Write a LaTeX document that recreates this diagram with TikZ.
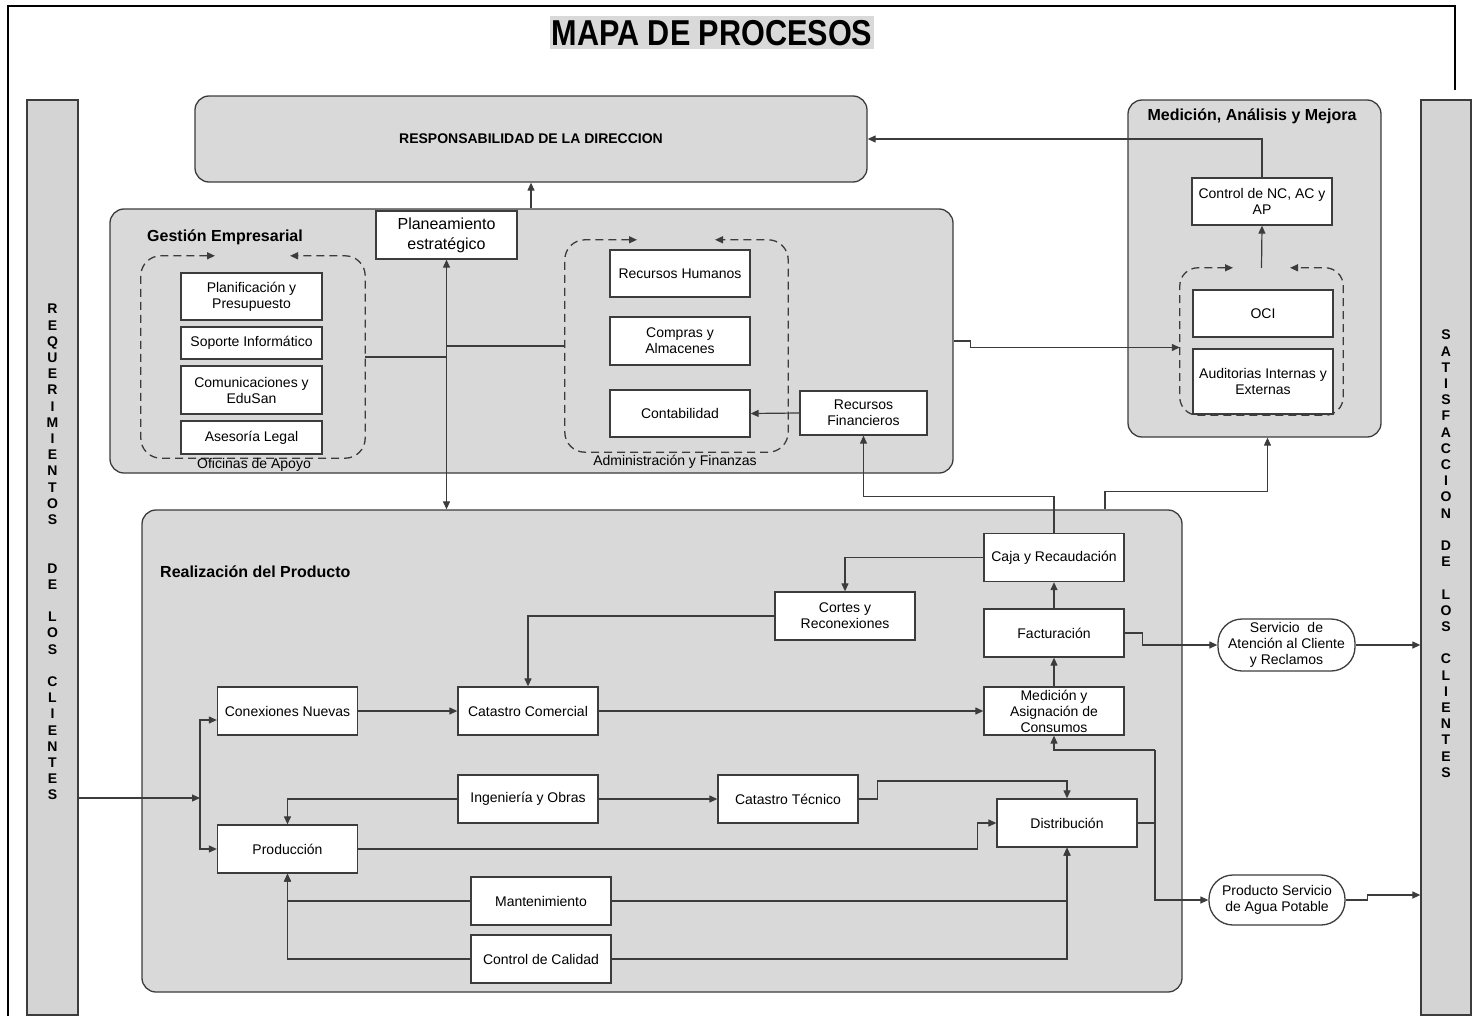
\documentclass[tikz,border=0pt]{standalone}
\usepackage{fontspec}
\setmainfont{Liberation Sans}
\newfontfamily\titulofont[FakeStretch=0.85]{Liberation Sans}
\usetikzlibrary{arrows.meta}
\usetikzlibrary{calc}
\usepackage{xcolor}

\definecolor{zonagris}{HTML}{D9D9D9}
\definecolor{colgris}{HTML}{D4D4D4}
\definecolor{trazo}{HTML}{3C3C3C}

\newcommand{\chica}{\fontsize{14}{16}\selectfont}
\newcommand{\etiq}{\bfseries\fontsize{16}{19}\selectfont}
\newcommand{\letra}{\bfseries\fontsize{14}{16.2}\selectfont}

\tikzset{
  caja/.style={draw=trazo, fill=white, line width=1.3pt, minimum width=140pt,
    minimum height=48pt, align=center, inner sep=1pt, font=\chica},
  zona/.style={draw=trazo, fill=zonagris, line width=1.3pt, rounded corners=14pt, inner sep=0pt},
  columna/.style={draw=trazo, fill=colgris, line width=1.3pt, minimum width=51pt,
    minimum height=915pt, inner sep=0pt},
  grupo/.style={draw=trazo, dash pattern=on 8pt off 5pt, line width=1.3pt, rounded corners=20pt},
  punta/.tip={Triangle[length=8pt,width=7pt]},
  flecha/.style={-punta, line width=1.2pt, draw=trazo},
  linea/.style={line width=1.2pt, draw=trazo},
  titulo/.style={font=\etiq, anchor=west, inner sep=0pt},
  ovalo/.style={draw=trazo, fill=white, line width=1.3pt, rounded corners=24pt,
    align=center, inner sep=1pt, font=\chica}
}

\begin{document}
\begin{tikzpicture}[x=1pt,y=-1pt]
\useasboundingbox (0,0) rectangle (1475,1025);

% marco y titulo
\draw[line width=2pt] (1455,90) -- (1455,6) -- (8,6) -- (8,1016);
\node[fill=zonagris, inner xsep=2pt, minimum height=33pt, font=\titulofont\bfseries\fontsize{36}{40}\selectfont] (titulo) at (712,33) {MAPA DE PROCESOS};

% columnas de clientes
\node[columna] (req) at (52.5,557.5) {};
\node[columna, minimum width=50pt] (sat) at (1446,557.5) {};
\node[font=\letra, align=center, anchor=north, inner sep=0pt] (reqtxt) at (52.5,304)
  {R\\E\\Q\\U\\E\\R\\I\\M\\I\\E\\N\\T\\O\\S\\[32.4pt]D\\E\\[16.2pt]L\\O\\S\\[16.2pt]C\\L\\I\\E\\N\\T\\E\\S};
\node[font=\letra, align=center, anchor=north, inner sep=0pt] (sattxt) at (1446,330)
  {S\\A\\T\\I\\S\\F\\A\\C\\C\\I\\O\\N\\[16.2pt]D\\E\\[16.2pt]L\\O\\S\\[16.2pt]C\\L\\I\\E\\N\\T\\E\\S};

% zonas
\node[zona, minimum width=672pt, minimum height=86pt, font=\bfseries\fontsize{14}{16}\selectfont] (resp) at (531,139) {RESPONSABILIDAD DE LA DIRECCION};
\node[zona, minimum width=843pt, minimum height=264pt] (gestion) at (531.5,341) {};
\node[zona, minimum width=253pt, minimum height=337pt] (medmej) at (1254.5,268.5) {};
\node[zona, minimum width=1040pt, minimum height=482pt] (realiz) at (662,751) {};
\node[titulo] (lblgestion) at (147,237) {Gestión Empresarial};
\node[titulo] (lblrealiz) at (160,572) {Realización del Producto};
\node[font=\etiq, inner sep=0pt] (lblmedmej) at (1252,116) {Medición, Análisis y Mejora};

% gestion empresarial
\node[caja, minimum width=141pt, font=\fontsize{16}{20}\selectfont] (planea) at (446.5,235) {Planeamiento\\estratégico};

\node[minimum width=224pt, minimum height=202pt, inner sep=0pt] (ofic) at (253,357) {};
\draw[grupo, punta-punta] ($(ofic.north)+(-38,0)$) -| (ofic.south west) -| (ofic.north east) -- ($(ofic.north)+(37,0)$);
\node[font=\chica, inner sep=0pt] (lblofic) at (254,465) {Oficinas de Apoyo};
\node[caja, minimum width=141pt, minimum height=47pt] (plan) at (251.5,296.5) {Planificación y\\Presupuesto};
\node[caja, minimum width=141pt, minimum height=32pt] (soporte) at (251.5,343) {Soporte Informático};
\node[caja, minimum width=141pt] (comunic) at (251.5,390) {Comunicaciones y\\EduSan};
\node[caja, minimum width=141pt, minimum height=33pt] (asesoria) at (251.5,437.5) {Asesoría Legal};

\node[minimum width=223pt, minimum height=212pt, inner sep=0pt] (admin) at (676.5,346) {};
\draw[grupo, punta-punta] ($(admin.north)+(-39.5,0)$) -| (admin.south west) -| (admin.north east) -- ($(admin.north)+(38.5,0)$);
\node[font=\chica, inner sep=0pt] (lbladmin) at (675,462) {Administración y Finanzas};
\node[caja, minimum height=47pt] (rrhh) at (680,273.5) {Recursos Humanos};
\node[caja] (compras) at (680,341) {Compras y\\Almacenes};
\node[caja, minimum height=47pt] (contab) at (680,413.5) {Contabilidad};
\node[caja, minimum width=127pt, minimum height=44pt] (recfin) at (863.5,413) {Recursos\\Financieros};

% medicion, analisis y mejora
\node[caja, minimum height=47pt] (control) at (1262,201.5) {Control de NC, AC y\\AP};
\node[minimum width=163pt, minimum height=147pt, inner sep=0pt] (audgrp) at (1261.5,341.5) {};
\draw[grupo, rounded corners=18pt, punta-punta] ($(audgrp.north)+(-28.5,0)$) -| (audgrp.south west) -| (audgrp.north east) -- ($(audgrp.north)+(28.5,0)$);
\node[caja, minimum height=47pt] (oci) at (1263,313.5) {OCI};
\node[caja, minimum height=65pt] (aud) at (1263,381.5) {Auditorias Internas y\\Externas};

% realizacion del producto
\node[caja] (conex) at (287.5,711) {Conexiones Nuevas};
\node[caja] (catcom) at (528,711) {Catastro Comercial};
\node[caja] (cortes) at (845,616) {Cortes y\\Reconexiones};
\node[caja] (caja) at (1054,557.5) {Caja y Recaudación};
\node[caja] (factur) at (1054,633) {Facturación};
\node[caja, inner ysep=0pt] (medasig) at (1054,711) {Medición y\\Asignación de\\Consumos};
\node[caja] (ingen) at (528,799) {Ingeniería y Obras};
\node[caja] (cattec) at (788,799) {Catastro Técnico};
\node[caja] (produc) at (287.5,849) {Producción};
\node[caja] (distrib) at (1067,823) {Distribución};
\node[caja] (mant) at (541,901) {Mantenimiento};
\node[caja] (calidad) at (541,959) {Control de Calidad};

\node[ovalo, minimum width=137pt, minimum height=52pt] (sac) at (1286.5,645) {Servicio \ de\\Atención al Cliente\\y Reclamos};
\node[ovalo, minimum width=136pt, minimum height=50pt] (agua) at (1277,900) {Producto Servicio\\de Agua Potable};

% conexiones
\draw[flecha] (gestion.north -| resp.south) -- (resp.south);
\draw[linea, punta-punta] (planea.south) -- (planea.south |- realiz.north);
\draw[linea] (ofic.east) -- (ofic.east -| planea.south);
\draw[linea] (planea.south |- admin.west) -- (admin.west);
\draw[flecha] (recfin.west) -- (contab.east);
\draw[flecha] (control.north) |- (resp.east);
\draw[flecha] (audgrp.north) -- (control.south);
\draw[flecha] (gestion.east) -- ++(17,0) |- ([yshift=-6pt]audgrp.west);
\draw[flecha] (caja.north) -- ++(0,-36) -| (recfin.south);
\draw[flecha] ([xshift=443pt]realiz.north) -- ++(0,-18) -| ([xshift=13pt]medmej.south);

\coordinate (split) at (200,798);
\draw[flecha] (req.east |- split) -- (split);
\draw[flecha] (split) |- ([yshift=-9pt]conex.west);
\draw[flecha] (split) |- (produc.west);
\draw[flecha] (conex.east) -- (catcom.west);
\draw[flecha] (catcom.east) -- (medasig.west);
\draw[flecha] (caja.west) -| (cortes.north);
\draw[flecha] (cortes.west) -| (catcom.north);
\draw[flecha] (medasig.north) -- (factur.south);
\draw[flecha] (factur.north) -- (caja.south);
\draw[flecha] (factur.east) -- ++(18,0) |- (sac.west);
\draw[flecha] (sac.east) -- (sat.west |- sac.east);

\coordinate (bajada) at (1155,750);
\draw[linea] (distrib.east) -- (distrib.east -| bajada);
\draw[flecha] (bajada) -| (medasig.south);
\draw[flecha] (bajada) |- (agua.west);
\draw[flecha] (agua.east) -- ++(22,0) -- ++(0,-5) -- (sat.west |- 0,895);

\draw[flecha] (ingen.west) -| (produc.north);
\draw[flecha] (ingen.east) -- (cattec.west);
\draw[flecha] (cattec.east) -- ++(19,0) -- ++(0,-18) -| (distrib.north);
\draw[flecha] (produc.east) -| ([xshift=-19pt]distrib.west) -- (distrib.west);
\draw[flecha] (mant.west) -| (produc.south);
\draw[flecha] (mant.east) -| (distrib.south);
\draw[flecha] (calidad.west) -| (produc.south);
\draw[flecha] (calidad.east) -| (distrib.south);
\end{tikzpicture}
\end{document}
